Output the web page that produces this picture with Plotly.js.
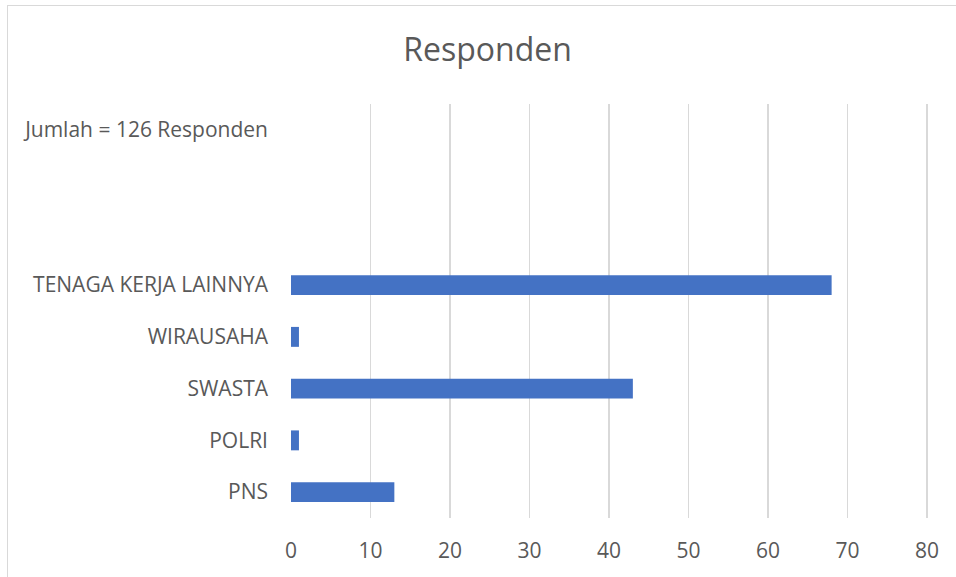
<!DOCTYPE html>
<html>
<head>
<meta charset="utf-8">
<script src="https://cdn.plot.ly/plotly-3.0.1.min.js"></script>
<style>
  body { margin: 0; background: #fff; }
  #graph { width: 956px; height: 577px; }
  #frame { position: absolute; left: 7px; top: 5px; width: 960px; height: 580px;
           border-left: 1.5px solid #d9d9d9; border-top: 1.5px solid #d9d9d9; pointer-events: none; }
</style>
</head>
<body>
<div id="graph"></div>
<div id="frame"></div>
<script>
// categories from bottom to top, the two blank rows keep the gap under the note
var categories = ["PNS", "POLRI", "SWASTA", "WIRAUSAHA", "TENAGA KERJA LAINNYA", " ", "  ", "Jumlah = 126 Responden"];
var values = [13, 1, 43, 1, 68, null, null, null];
var xTicks = [0, 10, 20, 30, 40, 50, 60, 70, 80];

var textColor = "#595959";
var fontFamily = "'Open Sans', Lato, sans-serif";

var data = [{
  type: "bar",
  orientation: "h",
  x: values,
  y: categories,
  marker: { color: "#4472C4" },
  hoverinfo: "x+y"
}];

var layout = {
  width: 956,
  height: 577,
  margin: { l: 291, r: 25, t: 104, b: 59 },
  paper_bgcolor: "#fff",
  plot_bgcolor: "#fff",
  font: { family: fontFamily, color: textColor, size: 21 },
  title: {
    text: "Responden",
    font: { family: fontFamily, size: 32, color: textColor },
    x: 0.51, xanchor: "center",
    y: 1 - 50 / 577, yref: "container", yanchor: "middle"
  },
  bargap: 0.615,
  showlegend: false,
  xaxis: {
    range: [0, 80.5],
    tickvals: xTicks,
    showgrid: true,
    gridcolor: "#d9d9d9",
    gridwidth: 1.5,
    zeroline: false,
    showline: false,
    ticks: "",
    ticklabelstandoff: 18,
    tickfont: { size: 21, color: textColor }
  },
  yaxis: {
    type: "category",
    categoryorder: "array",
    categoryarray: categories,
    showgrid: false,
    zeroline: false,
    showline: false,
    ticks: "",
    ticklabelstandoff: 22,
    tickfont: { size: 21, color: textColor }
  }
};

Plotly.newPlot("graph", data, layout, { displayModeBar: false, staticPlot: true });
</script>
</body>
</html>
